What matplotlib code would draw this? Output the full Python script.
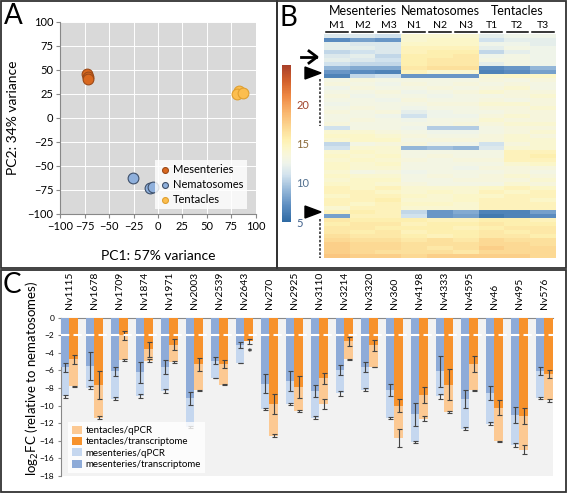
import numpy as np
import matplotlib
matplotlib.use("Agg")
import matplotlib.pyplot as plt
import matplotlib.transforms as mtransforms
from matplotlib.colors import LinearSegmentedColormap
from matplotlib.patches import Rectangle, Polygon
from matplotlib.lines import Line2D

plt.rcParams['font.family'] = ['Lato', 'DejaVu Sans']

# ---- Panel A: PCA ----
mes_pc1 = [-72.4, -72.0, -71.5]
mes_pc2 = [46.0, 42.3, 41.0]
nem_pc1 = [-25.3, -8.2, -5.4]
nem_pc2 = [-62.5, -73.6, -71.9]
ten_pc1 = [83.2, 81.2, 86.7]
ten_pc2 = [28.3, 24.8, 26.2]

# ---- Panel B: heatmap (rows top -> bottom; M1 M2 M3 N1 N2 N3 T1 T2 T3) ----
samples = ["M1", "M2", "M3", "N1", "N2", "N3", "T1", "T2", "T3"]
tissues = ["Mesenteries", "Nematosomes", "Tentacles"]
heat = [
    [11.5, 11.5, 11.0, 14.0, 14.0, 14.0, 12.0, 12.5, 12.5],
    [7.0, 8.0, 7.5, 14.0, 14.5, 14.5, 11.0, 12.0, 12.0],
    [12.0, 11.5, 11.5, 14.5, 14.5, 14.5, 12.5, 12.5, 12.0],
    [12.0, 12.0, 11.5, 15.0, 15.0, 15.0, 12.0, 13.0, 12.5],
    [10.5, 11.0, 11.5, 15.0, 15.5, 15.5, 10.5, 12.0, 12.5],
    [11.5, 12.0, 10.5, 15.5, 15.5, 16.0, 12.5, 13.0, 12.5],
    [12.0, 11.5, 11.0, 15.5, 16.0, 16.0, 13.0, 13.0, 12.5],
    [11.0, 10.5, 10.5, 15.5, 16.0, 16.0, 12.0, 13.0, 12.5],
    [9.0, 8.5, 8.5, 16.0, 16.5, 16.5, 7.0, 7.5, 9.0],
    [7.5, 7.0, 6.5, 15.0, 14.0, 14.0, 6.5, 7.0, 8.0],
    [6.5, 10.5, 11.0, 7.5, 7.5, 7.5, 14.0, 14.5, 14.5],
    [13.0, 13.5, 13.0, 13.0, 13.0, 13.0, 13.5, 13.0, 13.5],
    [13.5, 13.0, 12.5, 13.5, 13.0, 13.5, 13.0, 13.5, 13.0],
    [12.5, 13.5, 13.0, 13.0, 13.5, 13.0, 13.5, 14.0, 13.0],
    [13.0, 13.0, 13.5, 12.5, 13.0, 13.5, 14.0, 13.5, 13.5],
    [13.5, 12.5, 13.0, 13.0, 12.5, 13.0, 13.0, 13.5, 14.0],
    [13.0, 13.0, 12.5, 13.5, 13.0, 13.0, 13.5, 13.0, 13.5],
    [12.5, 13.0, 13.0, 13.0, 13.5, 13.5, 14.0, 14.0, 13.5],
    [13.0, 13.5, 13.0, 12.5, 13.0, 13.0, 13.5, 13.5, 14.0],
    [13.5, 13.0, 13.5, 12.0, 12.5, 13.0, 13.0, 13.5, 13.5],
    [13.0, 13.0, 12.5, 11.0, 12.5, 12.5, 13.5, 14.0, 13.5],
    [13.0, 13.5, 13.0, 12.5, 13.0, 13.0, 14.0, 13.5, 13.5],
    [13.5, 13.0, 13.0, 13.0, 13.0, 13.5, 13.5, 14.0, 14.0],
    [11.0, 13.0, 13.0, 12.5, 10.0, 10.0, 13.0, 13.5, 13.5],
    [14.0, 14.0, 13.5, 13.0, 12.5, 12.5, 13.0, 13.5, 14.0],
    [14.5, 14.5, 14.0, 13.5, 13.0, 13.0, 13.5, 14.0, 13.5],
    [14.0, 14.5, 14.5, 13.0, 13.5, 13.5, 13.5, 14.0, 14.0],
    [10.5, 13.0, 13.5, 13.5, 12.5, 12.5, 11.0, 13.5, 14.0],
    [11.0, 14.0, 14.0, 9.0, 9.5, 9.0, 11.5, 14.0, 14.0],
    [14.0, 14.5, 14.0, 13.0, 13.0, 13.0, 13.0, 15.0, 15.0],
    [14.5, 14.0, 14.5, 13.0, 13.5, 13.0, 13.0, 15.0, 15.5],
    [14.0, 14.5, 14.0, 13.5, 13.0, 13.5, 13.5, 15.0, 15.0],
    [14.5, 14.0, 14.5, 13.0, 13.0, 13.0, 13.0, 14.0, 14.5],
    [14.5, 14.0, 14.0, 13.0, 13.0, 12.5, 13.5, 13.5, 13.5],
    [14.0, 13.0, 13.5, 12.5, 13.0, 13.0, 13.0, 13.5, 13.0],
    [14.5, 14.0, 14.0, 13.0, 13.5, 13.0, 13.5, 14.0, 13.5],
    [14.0, 14.5, 14.5, 13.0, 13.0, 13.5, 13.5, 13.5, 14.0],
    [14.5, 14.5, 14.0, 13.5, 13.0, 13.0, 13.0, 14.0, 13.5],
    [15.0, 14.5, 15.0, 14.0, 14.0, 14.0, 14.5, 15.0, 14.5],
    [15.0, 15.0, 14.5, 14.0, 14.5, 14.0, 15.0, 14.5, 15.0],
    [14.5, 15.0, 15.0, 14.5, 14.0, 14.5, 14.5, 15.0, 15.0],
    [15.0, 15.0, 15.5, 14.0, 14.0, 14.5, 15.0, 15.0, 14.5],
    [15.0, 14.5, 15.0, 14.5, 14.5, 14.0, 15.0, 15.0, 15.0],
    [14.0, 15.0, 15.0, 14.0, 14.0, 14.0, 15.0, 15.0, 15.0],
    [15.0, 15.5, 15.0, 10.5, 7.5, 8.5, 6.5, 6.5, 8.0],
    [8.0, 15.0, 15.0, 11.0, 7.5, 8.0, 6.0, 6.5, 7.0],
    [16.0, 15.5, 15.5, 15.5, 15.0, 15.0, 15.5, 15.5, 15.0],
    [15.5, 16.0, 16.0, 15.0, 15.5, 15.5, 16.0, 15.5, 15.5],
    [16.0, 16.0, 15.5, 15.5, 15.5, 15.0, 15.5, 16.0, 16.0],
    [16.0, 15.5, 16.0, 15.0, 15.5, 15.5, 16.0, 15.5, 16.0],
    [16.5, 16.0, 16.0, 15.5, 15.0, 15.5, 16.0, 16.0, 15.5],
    [17.0, 16.5, 16.5, 16.0, 16.5, 16.0, 17.0, 16.5, 16.5],
    [17.5, 17.0, 17.0, 16.5, 16.5, 16.5, 17.0, 17.0, 16.5],
    [17.5, 17.0, 17.0, 16.5, 16.0, 16.5, 17.5, 17.0, 17.0],
    [17.5, 17.0, 16.5, 16.5, 16.5, 16.0, 17.0, 17.0, 17.0],
    [18.0, 17.5, 17.5, 17.0, 17.5, 17.5, 17.5, 17.5, 17.0],
]

# ---- Panel C: log2FC bars ----
genes = ["Nv1115", "Nv1678", "Nv1709", "Nv1874", "Nv1971", "Nv2003", "Nv2539",
         "Nv2643", "Nv270", "Nv2925", "Nv3110", "Nv3214", "Nv3320", "Nv360",
         "Nv4198", "Nv4333", "Nv4595", "Nv46", "Nv495", "Nv576"]
mes_trans = [-5.65, -5.5, -6.1, -6.2, -5.6, -9.15, -4.9, -3.15, -7.5, -7.2,
             -8.35, -5.95, -5.6, -8.2, -11.0, -6.1, -9.25, -8.6, -11.1, -6.05]
mes_trans_err = [0.5, 1.55, 0.55, 1.2, 0.8, 0.75, 0.4, 0.35, 1.1, 1.1,
                 0.65, 0.6, 0.6, 0.7, 1.35, 1.8, 1.0, 0.8, 0.9, 0.5]
mes_qpcr = [-8.95, -7.95, -9.2, -8.9, -8.35, -12.4, -6.85, -5.15, -10.4, -9.85,
            -11.35, -8.6, -8.2, -11.4, -14.1, -8.95, -12.6, -12.05, -14.5, -9.1]
mes_qpcr_err = [0.15, 0.15, 0.15, 0.2, 0.2, 0.1, 0.05, 0.05, 0.15, 0.1,
                0.15, 0.3, 0.15, 0.1, 0.1, 0.25, 0.15, 0.15, 0.25, 0.12]
ten_trans = [-4.75, -7.65, -2.0, -3.6, -3.05, -5.3, -5.3, -2.7, -9.8, -7.85,
             -6.9, -2.7, -3.15, -10.0, -8.8, -7.6, -5.25, -10.25, -11.15, -6.4]
ten_trans_err = [0.5, 1.55, 0.5, 0.85, 0.65, 0.75, 0.45, 0.3, 1.15, 1.25,
                 0.6, 0.55, 0.6, 0.7, 0.9, 1.8, 0.9, 0.85, 0.9, 0.5]
ten_qpcr = [-7.8, -11.35, -4.8, -4.9, -5.0, -8.25, -7.6, np.nan, -13.4, -10.65,
            -9.8, -4.75, -5.6, -13.65, -11.5, -10.7, -8.25, -14.05, -15.0, -9.4]
ten_qpcr_err = [0.05, 0.15, 0.15, 0.15, 0.1, 0.05, 0.05, np.nan, 0.15, 0.1,
                0.6, 0.1, 0.05, 1.05, 0.3, 0.1, 0.05, 0.05, 0.55, 0.2]

W, H = 567, 493


def fx(x):
    return x / W


def fy(y):
    return 1 - y / H


def box(x0, y0, x1, y1):
    return [fx(x0), fy(y1), fx(x1) - fx(x0), fy(y0) - fy(y1)]


fig = plt.figure(figsize=(W / 100, H / 100), dpi=100)
fig.patch.set_facecolor("white")

# panel frames
for x0, y0, x1, y1 in [(1, 1, 277, 268), (277, 1, 566, 268), (1, 270, 566, 492)]:
    fig.add_artist(Rectangle((fx(x0), fy(y1)), fx(x1) - fx(x0), fy(y0) - fy(y1),
                             transform=fig.transFigure, fill=False,
                             edgecolor="#333333", lw=1.3))

# ---------------- Panel A ----------------
ax_a = fig.add_axes(box(60.3, 22, 255.7, 213.7))
ax_a.set_facecolor("#d9d9d9")
ax_a.scatter(mes_pc1, mes_pc2, s=60, color="#d9681f", edgecolor="#9c4a18",
             lw=0.8, label="Mesenteries", zorder=3)
ax_a.scatter(nem_pc1, nem_pc2, s=60, color="#8fb0dc", edgecolor="#3d4f6a",
             lw=0.8, label="Nematosomes", zorder=3)
ax_a.scatter(ten_pc1, ten_pc2, s=60, color="#fcbe4f", edgecolor="#e0a030",
             lw=0.8, label="Tentacles", zorder=3)
ax_a.set_xlim(-100, 100)
ax_a.set_ylim(-100, 100)
ax_a.set_xticks(range(-100, 101, 25))
ax_a.set_yticks(range(-100, 101, 25))
ax_a.grid(color="white", lw=0.7)
ax_a.set_axisbelow(True)
for s in ["top", "right"]:
    ax_a.spines[s].set_visible(False)
for s in ["left", "bottom"]:
    ax_a.spines[s].set_color("#888888")
ax_a.tick_params(labelsize=8, length=3, color="#888888", pad=2)
leg = ax_a.legend(loc="lower right", bbox_to_anchor=(0.955, 0.025), fontsize=8,
                  frameon=True, fancybox=False, edgecolor="white",
                  handletextpad=0.2, borderpad=0.35, labelspacing=0.35,
                  markerscale=0.55, handlelength=1.0, borderaxespad=0)
leg.get_frame().set_linewidth(0)
fig.text(fx(158), fy(256), "PC1: 57% variance", ha="center", va="center", fontsize=10)
fig.text(fx(13), fy(118), "PC2: 34% variance", ha="center", va="center",
         fontsize=10, rotation=90)
fig.text(fx(4), fy(3), "A", ha="left", va="top", fontsize=20)

# ---------------- Panel B ----------------
cmap = LinearSegmentedColormap.from_list("heat", [
    (0.000, "#2f6aa3"), (0.100, "#5b8cc0"), (0.200, "#93b6d8"),
    (0.300, "#d3e3ee"), (0.375, "#eff4ea"), (0.425, "#f7f6dc"),
    (0.475, "#fcf6c8"), (0.525, "#fef0b0"), (0.600, "#fcd994"),
    (0.700, "#f9b56d"), (0.800, "#ef8a45"), (0.900, "#d2602c"),
    (1.000, "#a9402a")])
ax_b = fig.add_axes(box(324, 34, 556, 258))
im = ax_b.imshow(np.array(heat), cmap=cmap, vmin=5, vmax=25, aspect="auto",
                 interpolation="nearest")
ax_b.axis("off")
blend = mtransforms.blended_transform_factory(ax_b.transData, fig.transFigure)
for g, name in enumerate(tissues):
    ax_b.text(3 * g + 1, fy(11), name, transform=blend, ha="center",
              va="center", fontsize=9)
for i, name in enumerate(samples):
    ax_b.text(i, fy(26), name, transform=blend, ha="center", va="center",
              fontsize=7.5)
    ax_b.add_line(Line2D([i - 0.42, i + 0.42], [fy(32), fy(32)], transform=blend,
                         color="black", lw=1.1, clip_on=False))

cax = fig.add_axes(box(282, 65, 291, 222))
cb = fig.colorbar(im, cax=cax)
cb.outline.set_visible(False)
cb.set_ticks([5, 10, 15, 20])
cax.tick_params(length=0, labelsize=8, pad=4)
for lab, c in zip(cax.get_yticklabels(), ["#3e5f8a", "#52708f", "#8a6a3a", "#a0432a"]):
    lab.set_color(c)

# arrow and arrowheads
fig.add_artist(Line2D([fx(301), fx(316)], [fy(57), fy(57)], transform=fig.transFigure,
                      color="black", lw=2))
fig.add_artist(Line2D([fx(309), fx(317), fx(309)], [fy(51), fy(57), fy(63)],
                      transform=fig.transFigure, color="black", lw=2))
for yc in [73, 212]:
    fig.add_artist(Polygon([(fx(305), fy(yc - 6)), (fx(321), fy(yc)), (fx(305), fy(yc + 6))],
                           closed=True, transform=fig.transFigure, color="black"))
for y0, y1 in [(79, 126), (219, 258)]:
    fig.add_artist(Line2D([fx(320), fx(320)], [fy(y0), fy(y1)], transform=fig.transFigure,
                          color="#333333", lw=1.2, ls=(0, (1.5, 1))))
fig.text(fx(280), fy(5), "B", ha="left", va="top", fontsize=20)

# ---------------- Panel C ----------------
ax_c = fig.add_axes(box(60.7, 317.7, 553, 476))
ax_c.set_facecolor("#f2f2f2")
x = np.arange(len(genes))
w = 0.345
c_mq, c_mt, c_tq, c_tt = "#c5d7ef", "#8eabd8", "#fcc993", "#f7922c"
ax_c.bar(x - w / 2, mes_qpcr, w, color=c_mq, zorder=2, label="mesenteries/qPCR")
ax_c.bar(x - w / 2, mes_trans, w, color=c_mt, zorder=3, label="mesenteries/transcriptome")
ax_c.bar(x + w / 2, ten_qpcr, w, color=c_tq, zorder=2, label="tentacles/qPCR")
ax_c.bar(x + w / 2, ten_trans, w, color=c_tt, zorder=3, label="tentacles/transcriptome")
ekw = dict(fmt="none", ecolor="#444444", elinewidth=0.8, capsize=1.8, capthick=0.8, zorder=4)
ax_c.errorbar(x - w / 2, mes_qpcr, yerr=mes_qpcr_err, **ekw)
ax_c.errorbar(x - w / 2, mes_trans, yerr=mes_trans_err, **ekw)
ax_c.errorbar(x + w / 2, ten_qpcr, yerr=ten_qpcr_err, **ekw)
ax_c.errorbar(x + w / 2, ten_trans, yerr=ten_trans_err, **ekw)
ax_c.axhline(-2, color="white", lw=1.5, ls=(0, (4, 2)), zorder=5)
ax_c.text(7 + w / 2, -4.1, "*", ha="center", va="center", fontsize=10, zorder=6)
ax_c.set_xlim(-w, len(genes) - 1 + w)
ax_c.set_ylim(-18, 0)
ax_c.set_yticks(range(-18, 1, 2))
ax_c.xaxis.tick_top()
ax_c.set_xticks(x)
ax_c.set_xticklabels(genes, rotation=90, fontsize=7.5)
ax_c.tick_params(axis="x", length=0, pad=6)
ax_c.tick_params(axis="y", labelsize=6, length=2.5, color="#888888", pad=2)
for s in ["right", "bottom"]:
    ax_c.spines[s].set_visible(False)
for s in ["left", "top"]:
    ax_c.spines[s].set_color("#888888")
h, l = ax_c.get_legend_handles_labels()
order = [2, 3, 0, 1]
legc = ax_c.legend([h[i] for i in order], [l[i] for i in order], loc="lower left",
                   bbox_to_anchor=(0.015, 0.02), fontsize=7, frameon=True,
                   fancybox=False, edgecolor="white", handlelength=1.0,
                   handleheight=0.9, handletextpad=0.4, labelspacing=0.2,
                   borderpad=0.4, borderaxespad=0)
legc.get_frame().set_linewidth(0)
fig.text(fx(32), fy(378), "log$_2$FC (relative to nematosomes)", ha="center",
         va="center", rotation=90, fontsize=9.5)
fig.text(fx(3), fy(272), "C", ha="left", va="top", fontsize=20)

fig.savefig("out.png", dpi=100)
